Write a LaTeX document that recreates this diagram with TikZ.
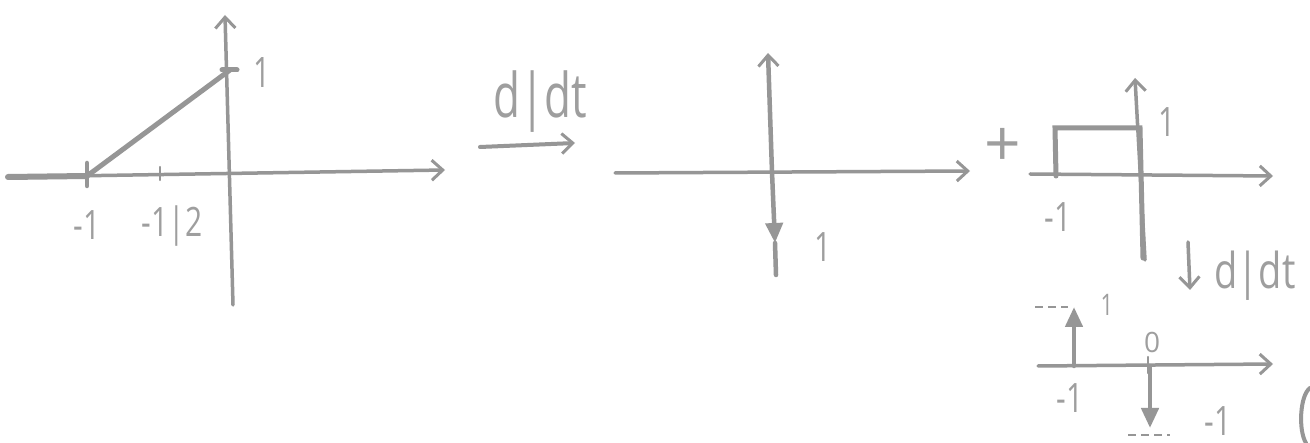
\documentclass[tikz,border=0pt]{standalone}
\usepackage{fontspec}
\setmainfont{Open Sans}
\usetikzlibrary{arrows.meta}
\definecolor{pencil}{RGB}{150,150,150}
\definecolor{pencilt}{RGB}{158,158,158}
\newcommand{\tall}[2][1.35]{\scalebox{1}[#1]{#2}}
\begin{document}
\begin{tikzpicture}[x=1pt,y=-1pt,
  pline/.style={draw=pencil, line width=3.5pt, line cap=round},
  axis/.style={pline, -{Straight Barb[length=11pt,width=20pt,line width=3pt]}},
  impulse/.style={pline, line width=4.5pt, -{Triangle[length=20pt,width=17pt]}},
  lab/.style={text=pencilt, font=\fontsize{30}{30}\selectfont, inner sep=0pt},
  smalllab/.style={text=pencilt, font=\fontsize{22}{22}\selectfont, inner sep=0pt},
  biglab/.style={text=pencilt, font=\fontsize{44}{44}\selectfont, inner sep=0pt},
  dashline/.style={draw=pencil, line width=1.8pt, dash pattern=on 8pt off 5pt}]
\useasboundingbox[fill=white] (0,0) rectangle (1310,443);

% ---------- panel 1 : ramp ----------
\coordinate (A1l) at (8,177);
\coordinate (A1r) at (445,170);
\coordinate (A1b) at (233,305);
\coordinate (A1t) at (225,15);
\coordinate (M1) at (87,176);
\coordinate (P1) at (230,70);
\draw[axis] (A1l) -- (A1r);
\draw[pline, line width=6pt] (A1l) -- (M1);
\draw[axis] (A1b) -- (A1t);
\draw[pline, line width=5pt] (M1) -- (P1);
\draw[pline, line width=4.5pt] (87,163) -- (87,186);
\draw[pline, line width=2.2pt] (160,167) -- (160,180);
\draw[pline, line width=5pt] (222,70) -- (237,70);
\node[lab] (l1) at (87,225) {\tall{-1}};
\node[lab] (l2) at (172,226) {\tall{-1|2}};
\node[lab] (l3) at (262,73) {\tall[1.4]{1}};

% ---------- d/dt arrow ----------
\coordinate (D1s) at (480,147);
\coordinate (D1e) at (575,143);
\draw[axis, line width=4pt] (D1s) -- (D1e);
\node[biglab] (dd1) at (540,102) {\tall[1.4]{d|dt}};

% ---------- panel 2 : impulse ----------
\coordinate (A2l) at (615,173);
\coordinate (A2r) at (970,171);
\coordinate (O2) at (772,172);
\coordinate (A2t) at (768,53);
\coordinate (I2) at (775,243);
\coordinate (E2) at (776,275);
\draw[axis] (A2l) -- (A2r);
\draw[axis, line width=4.5pt] (O2) -- (A2t);
\draw[impulse] (O2) -- (I2);
\draw[pline, line width=4.5pt] (I2) -- (E2);
\node[lab] (l4) at (823,247) {\tall{1}};

\node[lab, font=\fontsize{64}{64}\selectfont] (plus) at (1003,147) {+};

% ---------- panel 3 : box ----------
\coordinate (A3l) at (1030,174);
\coordinate (A3r) at (1273,176);
\coordinate (A3b) at (1145,260);
\coordinate (A3t) at (1135,78);
\draw[axis] (A3l) -- (A3r);
\draw[axis] (A3b) -- (A3t);
\draw[pline, line width=5pt] (1056,176) -- (1055,128) -- (1140,128) -- (1143,258);
\node[lab] (l5) at (1167,122) {\tall{1}};
\node[lab] (l6) at (1058,217) {\tall{-1}};

% ---------- second d/dt ----------
\coordinate (D2s) at (1188,242);
\coordinate (D2e) at (1190,290);
\draw[axis] (D2s) -- (D2e);
\node[biglab, font=\fontsize{38}{38}\selectfont] (dd2) at (1255,276) {\tall[1.3]{d|dt}};

% ---------- panel 4 : two impulses ----------
\coordinate (A4l) at (1038,366);
\coordinate (A4r) at (1273,364);
\coordinate (B4) at (1074,366);
\coordinate (U4) at (1074,307);
\coordinate (C4) at (1150,366);
\coordinate (W4) at (1150,428);
\draw[axis] (A4l) -- (A4r);
\draw[impulse] (B4) -- (U4);
\draw[impulse] (C4) -- (W4);
\draw[pline, line width=2.2pt] (1148,357) -- (1148,373);
\draw[dashline] (1035,307) -- (1068,307);
\draw[dashline] (1128,435) -- (1170,435);
\node[smalllab] (l7) at (1107,305) {\tall{1}};
\node[smalllab, font=\fontsize{28}{28}\selectfont] (l8) at (1152,342) {0};
\node[lab] (l9) at (1070,398) {\tall{-1}};
\node[lab] (l10) at (1218,421) {\tall{-1}};
\draw[pline, line width=4pt] (1310,388) .. controls (1300,395) and (1298,430) .. (1306,443);
\end{tikzpicture}
\end{document}
